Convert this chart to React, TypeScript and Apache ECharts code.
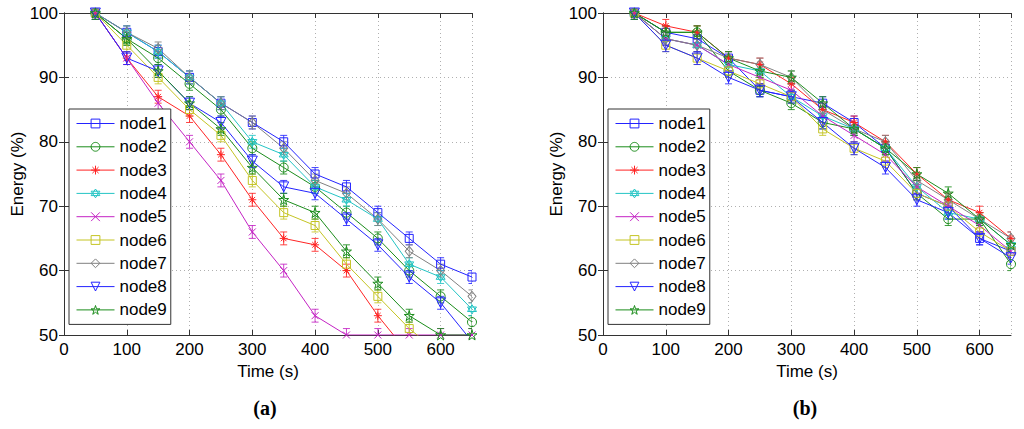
import React, { useEffect, useRef } from "react";
import * as echarts from "echarts";

const times = [50, 100, 150, 200, 250, 300, 350, 400, 450, 500, 550, 600, 650];
const nodeNames = ["node1", "node2", "node3", "node4", "node5", "node6", "node7", "node8", "node9"];

// (a) energy (%)
const aNode1 = [100, 97, 94, 90, 86, 83, 80, 75, 73, 69, 65, 61, 59];
const aNode2 = [100, 96, 93, 89, 85, 79, 76, 73, 69, 65, 60, 56, 52];
const aNode3 = [100, 93, 87, 84, 78, 71, 65, 64, 60, 53, 47, null, null];
const aNode4 = [100, 97, 94, 90, 86, 80, 78, 73, 71, 68, 61, 59, 54];
const aNode5 = [100, 93, 86, 80, 74, 66, 60, 53, 50, 50, 50, 50, 50];
const aNode6 = [100, 95, 90, 85, 81, 74, 69, 67, 61, 56, 51, 47, null];
const aNode7 = [100, 97, 94.5, 90, 86, 83, 79, 74, 72, 68, 63, 60, 56];
const aNode8 = [100, 93, 91, 86, 83, 77, 73, 72, 68, 64, 59, 55, 49];
const aNode9 = [100, 96, 91, 86, 82, 76, 71, 69, 63, 58, 53, 50, 50];

// (b) energy (%)
const bNode1 = [100, 97, 96, 93, 88, 87, 86, 83, 79, 72, 70, 65, 63];
const bNode2 = [100, 97, 97, 91, 88, 86, 83, 82, 79, 72, 68, 68, 61];
const bNode3 = [100, 98, 97, 93, 92, 89, 85, 83, 80, 75, 71, 69, 65];
const bNode4 = [100, 96, 95, 92, 91, 87, 84, 82, 79, 73, 69, 68, 64];
const bNode5 = [100, 96, 95, 92, 90, 88, 84, 81, 78, 73, 70, 67, 63];
const bNode6 = [100, 95, 93, 91, 89, 87, 82, 79, 77, 72, 70, 66, 63];
const bNode7 = [100, 96, 95, 93, 92, 90, 85, 82, 80, 74, 71, 68, 65];
const bNode8 = [100, 95, 93, 90, 88, 87, 83, 79, 76, 71, 69, 65, 62];
const bNode9 = [100, 97, 97, 93, 91, 90, 86, 82, 79, 75, 72, 68, 64];

const errHalf = 1;

const seriesA = [aNode1, aNode2, aNode3, aNode4, aNode5, aNode6, aNode7, aNode8, aNode9];
const seriesB = [bNode1, bNode2, bNode3, bNode4, bNode5, bNode6, bNode7, bNode8, bNode9];

const colors = ["#2323ff", "#1b8c1b", "#ff2323", "#23c4c4", "#c423c4", "#c4c423", "#808080", "#2323ff", "#1b8c1b"];
const symbols = [
  "rect",
  "circle",
  "path://M5 0L5 10M0 5L10 5M1.5 1.5L8.5 8.5M1.5 8.5L8.5 1.5",
  "path://M5 0L9.33 7.5L0.67 7.5ZM5 10L0.67 2.5L9.33 2.5Z",
  "path://M0 0L10 10M10 0L0 10",
  "rect",
  "diamond",
  "path://M0 0L10 0L5 9Z",
  "path://M5 0L6.18 3.6L10 3.6L6.9 5.9L8.1 9.5L5 7.3L1.9 9.5L3.1 5.9L0 3.6L3.82 3.6Z",
];
const symbolSizes = [8, 9, 8, 9, 7, 8, [8, 10], 10, 10];

const FONT = "'Liberation Sans', Arial, Helvetica, sans-serif";

function App() {
  const ref = useRef<HTMLDivElement>(null);
  useEffect(() => {
    if (!ref.current) return;
    const chart = echarts.init(ref.current, null, { renderer: "svg" });

    const grids = [
      { left: 64, top: 13, width: 408, height: 322 },
      { left: 603, top: 13, width: 408, height: 322 },
    ];

    const xAxes: any[] = [];
    const yAxes: any[] = [];
    [0, 1].forEach((g) => {
      xAxes.push({
        type: "value",
        gridIndex: g,
        min: 0,
        max: 650,
        interval: 100,
        name: "Time (s)",
        nameLocation: "middle",
        nameGap: 23,
        nameTextStyle: { fontSize: 17, fontFamily: FONT, color: "#000" },
        axisLine: { show: true, lineStyle: { color: "#333", width: 1 } },
        axisTick: { show: true, inside: true, length: 5, lineStyle: { color: "#333" } },
        axisLabel: { fontSize: 17, fontFamily: FONT, color: "#000", margin: 6, showMaxLabel: false },
        splitLine: { show: true, lineStyle: { color: "#b0b0b0", type: [1, 3], width: 1 } },
      });
      xAxes.push({
        type: "value",
        gridIndex: g,
        position: "top",
        min: 0,
        max: 650,
        interval: 100,
        axisLine: { show: true, lineStyle: { color: "#333", width: 1 } },
        axisTick: { show: true, inside: true, length: 5, lineStyle: { color: "#333" } },
        axisLabel: { show: false },
        splitLine: { show: false },
      });
      yAxes.push({
        type: "value",
        gridIndex: g,
        min: 50,
        max: 100,
        interval: 10,
        name: "Energy (%)",
        nameLocation: "middle",
        nameGap: 37,
        nameTextStyle: { fontSize: 17, fontFamily: FONT, color: "#000" },
        axisLine: { show: true, lineStyle: { color: "#333", width: 1 } },
        axisTick: { show: true, inside: true, length: 5, lineStyle: { color: "#333" } },
        axisLabel: { fontSize: 17, fontFamily: FONT, color: "#000", margin: 6 },
        splitLine: { show: true, lineStyle: { color: "#b0b0b0", type: [1, 3], width: 1 } },
      });
      yAxes.push({
        type: "value",
        gridIndex: g,
        position: "right",
        min: 50,
        max: 100,
        interval: 10,
        axisLine: { show: true, lineStyle: { color: "#333", width: 1 } },
        axisTick: { show: true, inside: true, length: 5, lineStyle: { color: "#333" } },
        axisLabel: { show: false },
        splitLine: { show: false },
      });
    });

    const series: any[] = [];
    [seriesA, seriesB].forEach((set, g) => {
      set.forEach((vals, i) => {
        const color = colors[i];
        const pts = times.map((t, k) => [t, vals[k] === null ? "-" : vals[k]]);
        series.push({
          type: "custom",
          name: nodeNames[i] + "-err",
          xAxisIndex: g * 2,
          yAxisIndex: g * 2,
          data: pts,
          encode: { x: 0, y: 1 },
          silent: true,
          z: 2,
          renderItem: (params: any, api: any) => {
            const v = api.value(1);
            if (v === null || v === undefined || isNaN(v)) return null;
            const t = api.value(0);
            const p1 = api.coord([t, v + errHalf]);
            const p2 = api.coord([t, v - errHalf]);
            const cs = params.coordSys;
            const hw = 3.5;
            const st = { stroke: color, lineWidth: 1, opacity: 0.85 };
            return {
              type: "group",
              clipPath: { type: "rect", shape: { x: cs.x, y: cs.y, width: cs.width, height: cs.height } },
              children: [
                { type: "line", shape: { x1: p1[0], y1: p1[1], x2: p2[0], y2: p2[1] }, style: st },
                { type: "line", shape: { x1: p1[0] - hw, y1: p1[1], x2: p1[0] + hw, y2: p1[1] }, style: st },
                { type: "line", shape: { x1: p2[0] - hw, y1: p2[1], x2: p2[0] + hw, y2: p2[1] }, style: st },
              ],
            };
          },
        });
        series.push({
          type: "line",
          name: nodeNames[i],
          xAxisIndex: g * 2,
          yAxisIndex: g * 2,
          data: pts,
          symbol: symbols[i],
          symbolSize: symbolSizes[i],
          showSymbol: true,
          connectNulls: false,
          clip: true,
          z: 3,
          color: color,
          lineStyle: { color: color, width: 1 },
          itemStyle: { color: "rgba(255,255,255,0)", borderColor: color, borderWidth: 1 },
        });
      });
    });

    const legendBase = {
      orient: "vertical",
      data: nodeNames,
      itemWidth: 38,
      itemHeight: 11,
      itemGap: 4.3,
      padding: [5, 4, 5, 7],
      backgroundColor: "#fff",
      borderColor: "#333",
      borderWidth: 1,
      borderRadius: 0,
      selectedMode: false,
      lineStyle: { width: 1 },
      itemStyle: { borderWidth: 1, color: "rgba(255,255,255,0)" },
      textStyle: { fontSize: 17, fontFamily: FONT, color: "#000", lineHeight: 19 },
    };

    chart.setOption({
      animation: false,
      backgroundColor: "#fff",
      grid: grids,
      xAxis: xAxes,
      yAxis: yAxes,
      legend: [
        { ...legendBase, left: 69, top: 109 },
        { ...legendBase, left: 608, top: 109 },
      ],
      series,
      graphic: [
        {
          type: "text",
          x: 265,
          y: 408,
          style: {
            text: "(a)",
            font: "bold 20px 'Liberation Serif', 'Times New Roman', serif",
            fill: "#000",
            align: "center",
            verticalAlign: "middle",
          },
        },
        {
          type: "text",
          x: 805,
          y: 408,
          style: {
            text: "(b)",
            font: "bold 20px 'Liberation Serif', 'Times New Roman', serif",
            fill: "#000",
            align: "center",
            verticalAlign: "middle",
          },
        },
      ],
    });

    return () => chart.dispose();
  }, []);

  return (
    <div
      ref={ref}
      style={{ position: "absolute", left: 0, top: 0, width: 1024, height: 429, background: "#fff" }}
    />
  );
}

export default App;
